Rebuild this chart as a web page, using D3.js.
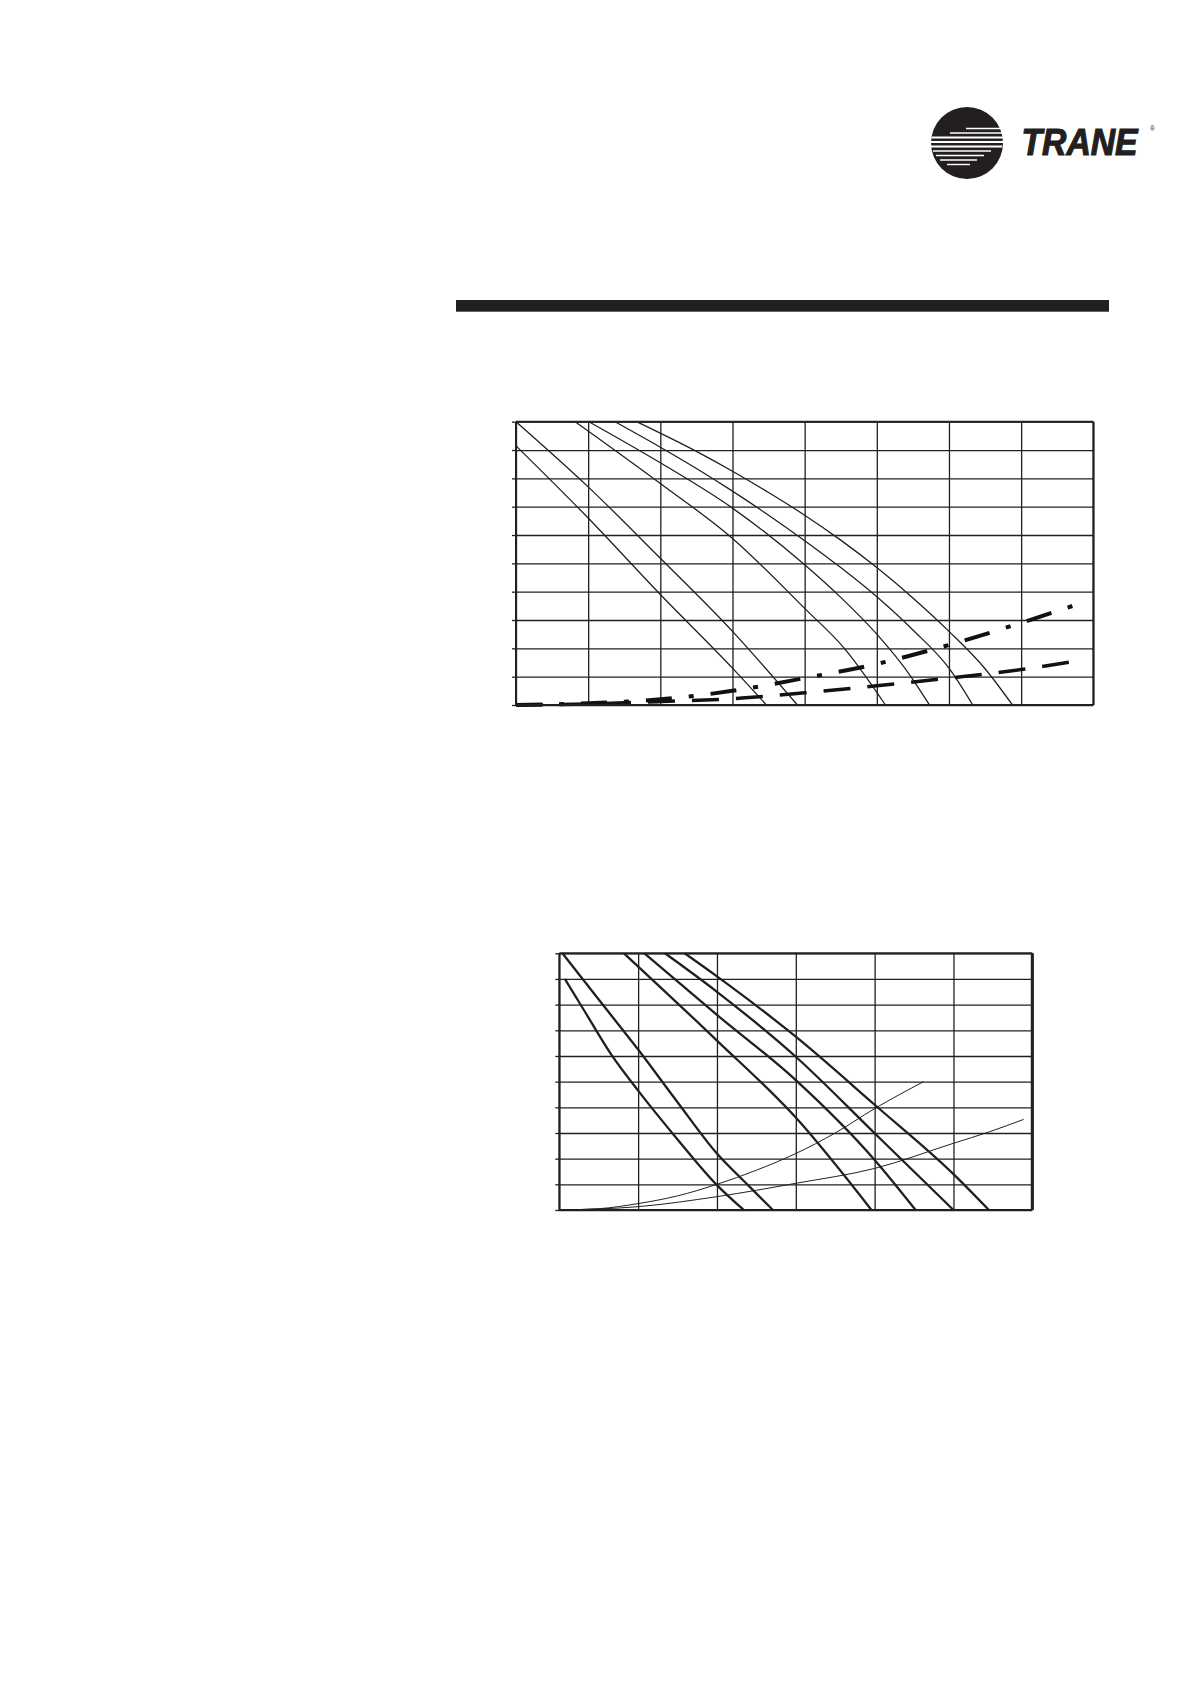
<!DOCTYPE html>
<html>
<head>
<meta charset="utf-8">
<script src="https://cdn.jsdelivr.net/npm/d3@7/dist/d3.min.js"></script>
<style>
  html, body { margin: 0; padding: 0; background: #fff; }
  svg { display: block; }
</style>
</head>
<body>
<div id="page"></div>
<script>
// ---------------- DATA ----------------
// Chart 1 (upper): grid units, x 0..8 (8 columns), y 0..10 (10 rows)
const chart1XTicks = [0, 1, 2, 3, 4, 5, 6, 7, 8];
const chart1YTicks = [0, 1, 2, 3, 4, 5, 6, 7, 8, 9, 10];
const chart1Fan1 = [[0, 9.15], [1, 6.6], [2, 3.9], [3, 1.3], [3.47, 0]];
const chart1Fan2 = [[0, 10], [1, 7.7], [2, 5.18], [3, 2.6], [3.9, 0]];
const chart1Fan3 = [[0.82, 10], [2, 7.82], [3, 5.88], [4, 3.41], [4.55, 2.0], [5.12, 0]];
const chart1Fan4 = [[1.01, 10], [2, 8.55], [3, 6.95], [4, 4.95], [4.5, 3.8], [5, 2.5], [5.46, 1.05], [5.73, 0]];
const chart1Fan5 = [[1.37, 10], [2, 9.1], [2.5, 8.35], [3, 7.55], [3.5, 6.7], [4, 5.8], [4.5, 4.85], [5, 3.82], [5.5, 2.65], [6, 1.3], [6.33, 0]];
const chart1Fan6 = [[1.67, 10], [2.5, 8.95], [3, 8.25], [3.5, 7.5], [4, 6.7], [4.5, 5.82], [5, 4.85], [5.5, 3.78], [6, 2.6], [6.5, 1.28], [6.88, 0]];
const chart1SystemA = [[0, 0], [1, 0.06], [2, 0.2], [3, 0.5], [4, 0.95], [5, 1.45], [6, 2.12], [7, 2.9], [7.88, 3.64]]; // dash-dot
const chart1SystemB = [[0, 0], [1, 0.04], [2, 0.12], [3, 0.22], [4, 0.43], [5, 0.68], [6, 0.95], [7, 1.25], [7.88, 1.6]]; // dashed

// Chart 2 (lower): grid units, x 0..6 (6 columns), y 0..10 (10 rows)
const chart2XTicks = [0, 1, 2, 3, 4, 5, 6];
const chart2YTicks = [0, 1, 2, 3, 4, 5, 6, 7, 8, 9, 10];
const chart2Fan1 = [[0.07, 9.0], [0.3, 7.85], [0.66, 6.05], [1.0, 4.65], [1.5, 2.75], [2.0, 0.97], [2.34, 0]];
const chart2Fan2 = [[0.04, 10], [0.5, 8.2], [1, 6.25], [1.5, 4.2], [2, 2.2], [2.4, 0.95], [2.71, 0]];
const chart2Fan3 = [[0.82, 10], [2, 6.6], [3, 3.6], [3.96, 0]];
const chart2Fan4 = [[1.08, 10], [2, 7.6], [3, 5.06], [4, 1.95], [4.52, 0]];
const chart2Fan5 = [[1.34, 10], [2, 8.5], [3, 5.97], [4, 2.99], [5, 0]];
const chart2Fan6 = [[1.59, 10], [2, 9.1], [3, 6.75], [4, 4.1], [5, 1.4], [5.45, 0]];
const chart2SystemA = [[0, 0], [0.5, 0.05], [1, 0.25], [1.5, 0.55], [2, 1.0], [2.5, 1.55], [3, 2.2], [3.5, 3.0], [4, 3.95], [4.62, 5.0]];
const chart2SystemB = [[0, 0], [1, 0.13], [2, 0.52], [3, 1.04], [4, 1.62], [5, 2.6], [5.46, 3.05], [5.89, 3.53]];

// ---------------- DRAWING ----------------
const W = 1191, H = 1684;
const svg = d3.select("#page").append("svg").attr("width", W).attr("height", H)
  .attr("viewBox", `0 0 ${W} ${H}`);
svg.append("rect").attr("width", W).attr("height", H).attr("fill", "#fff");

// Header bar
svg.append("rect").attr("x", 456).attr("y", 300).attr("width", 653).attr("height", 11.7).attr("fill", "#231f20");

// Logo
const logo = svg.append("g");
logo.append("circle").attr("cx", 967).attr("cy", 143).attr("r", 36).attr("fill", "#231f20");
const stripes = [
  [966, 1001, 128.5, 1.6], [950, 1002, 133, 1.6], [931.5, 1003, 137.5, 1.8], [931, 1003, 142, 1.8],
  [931, 1002, 146.5, 1.8], [933, 991, 151, 1.6], [936, 984, 155.5, 1.6], [940, 977, 160, 1.5], [947, 970, 164.5, 1.4]
];
logo.selectAll("line.s").data(stripes).enter().append("line")
  .attr("x1", d => d[0]).attr("x2", d => d[1]).attr("y1", d => d[2]).attr("y2", d => d[2])
  .attr("stroke", "#fff").attr("stroke-width", d => d[3]);
logo.append("text").attr("x", 1021.5).attr("y", 154.5)
  .attr("font-family", "Liberation Sans, Arial, sans-serif").attr("font-weight", "900")
  .attr("font-style", "italic").attr("font-size", 37.5)
  .attr("textLength", 116).attr("lengthAdjust", "spacingAndGlyphs")
  .attr("fill", "#231f20").attr("stroke", "#231f20").attr("stroke-width", 1.2)
  .text("TRANE");
logo.append("text").attr("x", 1150).attr("y", 131)
  .attr("font-family", "Liberation Sans, Arial, sans-serif").attr("font-size", 6.5)
  .attr("fill", "#231f20").text("®");

function drawChart(cfg) {
  const g = svg.append("g").attr("transform", `translate(${cfg.left},${cfg.top})`);
  const x = d3.scaleLinear().domain([cfg.xTicks[0], cfg.xTicks[cfg.xTicks.length - 1]]).range([0, cfg.width]);
  const y = d3.scaleLinear().domain([cfg.yTicks[0], cfg.yTicks[cfg.yTicks.length - 1]]).range([cfg.height, 0]);

  // vertical grid
  const gx = g.append("g").attr("transform", `translate(0,${cfg.height})`)
    .call(d3.axisBottom(x).tickValues(cfg.xTicks).tickSize(-cfg.height).tickFormat(""));
  gx.select(".domain").remove();
  gx.selectAll("line").attr("stroke", "#231f20").attr("stroke-width", cfg.gridW);
  // horizontal grid
  const gy = g.append("g")
    .call(d3.axisLeft(y).tickValues(cfg.yTicks).tickSize(-cfg.width).tickFormat(""));
  gy.select(".domain").remove();
  gy.selectAll("line").attr("stroke", "#231f20").attr("stroke-width", cfg.gridW);
  // outside left ticks
  const gt = g.append("g")
    .call(d3.axisLeft(y).tickValues(cfg.yTicks).tickSize(cfg.tick).tickFormat(""));
  gt.select(".domain").remove();
  gt.selectAll("line").attr("stroke", "#231f20").attr("stroke-width", cfg.gridW);

  const clip = "clip" + cfg.id;
  g.append("clipPath").attr("id", clip).append("rect").attr("x", -2).attr("y", -2)
    .attr("width", cfg.width + 4).attr("height", cfg.height + 4);
  const plot = g.append("g").attr("clip-path", `url(#${clip})`);

  const line = d3.line().x(d => x(d[0])).y(d => y(d[1])).curve(d3.curveMonotoneX);
  cfg.series.forEach(s => {
    plot.append("path").datum(s.data).attr("d", line)
      .attr("fill", "none").attr("stroke", s.color || "#231f20")
      .attr("stroke-width", s.w).attr("stroke-dasharray", s.dash || null)
      .attr("stroke-linecap", "butt").attr("stroke-linejoin", "round");
  });

  // border
  g.append("line").attr("x1", 0).attr("x2", cfg.width).attr("y1", 0).attr("y2", 0)
    .attr("stroke", "#231f20").attr("stroke-width", cfg.borderW);
  g.append("line").attr("x1", 0).attr("x2", cfg.width).attr("y1", cfg.height).attr("y2", cfg.height)
    .attr("stroke", "#231f20").attr("stroke-width", cfg.borderW);
  g.append("line").attr("x1", 0).attr("x2", 0).attr("y1", 0).attr("y2", cfg.height)
    .attr("stroke", "#231f20").attr("stroke-width", cfg.borderW);
  g.append("line").attr("x1", cfg.width).attr("x2", cfg.width).attr("y1", 0).attr("y2", cfg.height)
    .attr("stroke", "#231f20").attr("stroke-width", cfg.borderRW);
}

drawChart({
  id: "c1", left: 516, top: 421.7, width: 577.3, height: 283.3,
  xTicks: chart1XTicks, yTicks: chart1YTicks, gridW: 1.3, borderW: 2, borderRW: 2, tick: 4,
  series: [
    { data: chart1Fan1, w: 1.3 },
    { data: chart1Fan2, w: 1.3 },
    { data: chart1Fan3, w: 1.3 },
    { data: chart1Fan4, w: 1.3 },
    { data: chart1Fan5, w: 1.3 },
    { data: chart1Fan6, w: 1.3 },
    { data: chart1SystemA, w: 4, dash: "26,17,5,17", color: "#111" },
    { data: chart1SystemB, w: 3.5, dash: "27,17", color: "#111" }
  ]
});

drawChart({
  id: "c2", left: 559.3, top: 953.3, width: 473, height: 256.7,
  xTicks: chart2XTicks, yTicks: chart2YTicks, gridW: 1.3, borderW: 2, borderRW: 3, tick: 4,
  series: [
    { data: chart2Fan1, w: 2.3 },
    { data: chart2Fan2, w: 2.3 },
    { data: chart2Fan3, w: 2.3 },
    { data: chart2Fan4, w: 2.3 },
    { data: chart2Fan5, w: 2.3 },
    { data: chart2Fan6, w: 2.3 },
    { data: chart2SystemA, w: 1.0 },
    { data: chart2SystemB, w: 1.0 }
  ]
});
</script>
</body>
</html>
